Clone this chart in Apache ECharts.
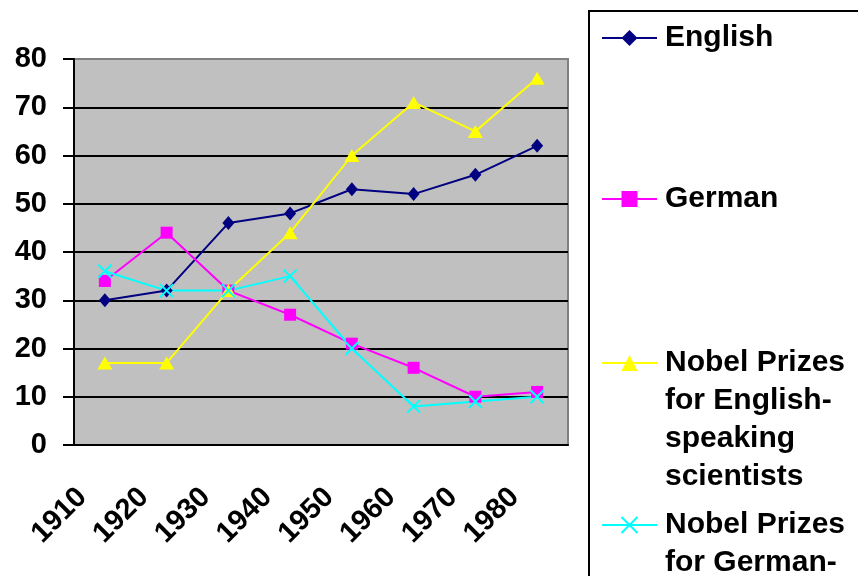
<!DOCTYPE html>
<html>
<head>
    <meta charset="utf-8">
    <title>English vs German</title>
    <script src="https://cdn.jsdelivr.net/npm/echarts@6/dist/echarts.min.js"></script>
    <style>
        html, body { margin: 0; padding: 0; background: #fff; }
        #main { width: 858px; height: 576px; }
    </style>
</head>
<body>
    <div id="main"></div>
    <script type="text/javascript">
        // data
        var decades = ['1910', '1920', '1930', '1940', '1950', '1960', '1970', '1980'];
        var english = [30, 32, 46, 48, 53, 52, 56, 62];
        var german = [34, 44, 32, 27, 21, 16, 10, 11];
        var nobelEnglish = [17, 17, 32, 44, 60, 71, 65, 76];
        var nobelGerman = [36, 32, 32, 35, 20, 8, 9, 10];
        var seriesNames = [
            'English',
            'German',
            'Nobel Prizes for English-speaking scientists',
            'Nobel Prizes for German-speaking scientists'
        ];
        var legendLines = [
            ['English'],
            ['German'],
            ['Nobel Prizes', 'for English-', 'speaking', 'scientists'],
            ['Nobel Prizes', 'for German-', 'speaking', 'scientists']
        ];
        var yTicks = [0, 10, 20, 30, 40, 50, 60, 70, 80];

        var font = '"Liberation Sans", Arial, sans-serif';
        var lineH = 38;
        var legendTops = [19, 180, 230, 392];

        var myChart = echarts.init(document.getElementById('main'));

        // legend text block is centred on the icon, so blank lines in front
        // keep the icon level with the first line (like Excel does)
        function legendFor(i) {
            var lines = legendLines[i];
            var pad = [];
            for (var k = 1; k < lines.length; k++) pad.push('');
            return {
                show: true,
                orient: 'vertical',
                left: 601,
                top: legendTops[i],
                padding: 0,
                itemWidth: 55,
                itemHeight: 20,
                selectedMode: false,
                data: [seriesNames[i]],
                formatter: function () { return pad.concat(lines).join('\n'); },
                textStyle: {
                    fontFamily: font,
                    fontWeight: 'bold',
                    fontSize: 30,
                    color: '#000',
                    lineHeight: lineH,
                    padding: [0, 0, 0, 3]
                }
            };
        }

        var option = {
            animation: false,
            backgroundColor: '#fff',
            grid: {
                left: 74,
                top: 59,
                right: 290,
                bottom: 131,
                show: true,
                backgroundColor: '#C0C0C0',
                borderColor: '#808080',
                borderWidth: 2
            },
            legend: [legendFor(0), legendFor(1), legendFor(2), legendFor(3)],
            graphic: [{
                type: 'rect',
                z: 0,
                shape: { x: 589, y: 11, width: 400, height: 700 },
                style: { fill: 'transparent', stroke: '#000', lineWidth: 2 }
            }],
            xAxis: {
                type: 'category',
                data: decades,
                boundaryGap: true,
                axisLine: { lineStyle: { color: '#000', width: 2 } },
                axisTick: { length: 10, lineStyle: { color: '#000', width: 2 } },
                axisLabel: {
                    interval: 0,
                    rotate: 45,
                    margin: 25,
                    padding: [0, 32, 0, 0],
                    fontFamily: font,
                    fontWeight: 'bold',
                    fontSize: 29,
                    color: '#000'
                },
                splitLine: { show: false }
            },
            yAxis: {
                type: 'value',
                min: yTicks[0],
                max: yTicks[yTicks.length - 1],
                interval: 10,
                axisLine: { show: true, lineStyle: { color: '#000', width: 2 } },
                axisTick: { show: true, length: 11, lineStyle: { color: '#000', width: 2 } },
                axisLabel: {
                    margin: 27,
                    fontFamily: font,
                    fontWeight: 'bold',
                    fontSize: 29,
                    color: '#000'
                },
                splitLine: {
                    show: true,
                    showMaxLine: false,
                    lineStyle: { color: '#000', width: 2 }
                }
            },
            series: [{
                name: seriesNames[0],
                type: 'line',
                data: english,
                symbol: 'diamond',
                symbolSize: [12, 14],
                lineStyle: { color: '#000080', width: 2 },
                itemStyle: { color: '#000080' }
            }, {
                name: seriesNames[1],
                type: 'line',
                data: german,
                symbol: 'rect',
                symbolSize: 12,
                lineStyle: { color: '#FF00FF', width: 2 },
                itemStyle: { color: '#FF00FF' }
            }, {
                name: seriesNames[2],
                type: 'line',
                data: nobelEnglish,
                symbol: 'triangle',
                symbolSize: [15, 13],
                lineStyle: { color: '#FFFF00', width: 2 },
                itemStyle: { color: '#FFFF00' }
            }, {
                name: seriesNames[3],
                type: 'line',
                data: nobelGerman,
                symbol: 'path://M0,0L10,10M10,0L0,10',
                symbolSize: 13,
                lineStyle: { color: '#00FFFF', width: 2 },
                itemStyle: { color: '#00FFFF', borderColor: '#00FFFF', borderWidth: 2 }
            }]
        };

        myChart.setOption(option);
    </script>
</body>
</html>
